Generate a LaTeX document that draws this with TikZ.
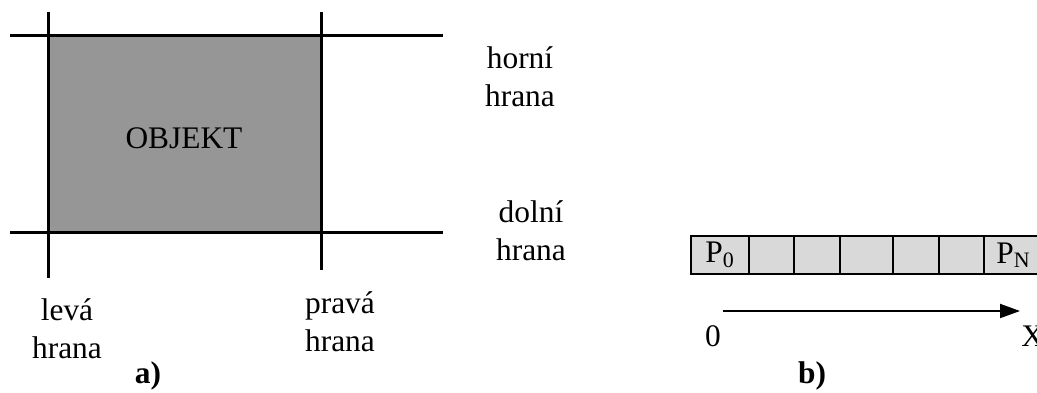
\documentclass[tikz,border=0pt]{standalone}
\usepackage{fontspec}
\setmainfont{Liberation Serif}
\usetikzlibrary{arrows.meta}
\begin{document}
\begin{tikzpicture}[x=0.5pt,y=-0.5pt,
  edge/.style={line width=1.5pt,black},
  lbl/.style={font=\fontsize{15.7}{19}\selectfont,align=center,inner sep=0pt},
  captionlbl/.style={font=\fontsize{15.7}{19}\selectfont\bfseries,inner sep=0pt},
  cell/.style={draw=black,line width=1.3pt,fill=black!15}]
\useasboundingbox (0,0) rectangle (1037,392);
\clip (0,0) rectangle (1037,392);
% part a
\fill[black!41] (48,35) rectangle (321,232);
\draw[edge] (10,35) -- (443,35);
\draw[edge] (10,232) -- (443,232);
\draw[edge] (48,12) -- (48,278);
\draw[edge] (321,12) -- (321,270);
\node[lbl] (obj) at (184,138) {OBJEKT};
\node[lbl] (leva) at (67,329) {levá\\hrana};
\node[lbl] (prava) at (340,322) {pravá\\hrana};
\node[lbl] (horni) at (520,77) {horní\\hrana};
\node[lbl] (dolni) at (531,231) {dolní\\hrana};
\node[captionlbl] (a) at (148,376) {a)};
% part b
\fill[black!15] (691,236) rectangle (1045,274);
\foreach \xa/\xb in {691/749,749/794,794/840,840/893,893/939,939/984,984/1045}
  \draw[line width=1.3pt] (\xa,236) rectangle (\xb,274);
\node[lbl] (p0) at (720,255) {P\textsubscript{0}};
\node[lbl,anchor=west] (pn) at (996,255) {P\textsubscript{N}};
\node[lbl] (zero) at (713,336) {0};
\node[lbl,anchor=west] (xax) at (1021,336) {X};
\coordinate (as) at (723,311);
\coordinate (ae) at (1020,311);
\draw[line width=1pt,-{Triangle[length=10pt,width=7pt]}] (as) -- (ae);
\node[captionlbl] (b) at (812,376) {b)};
\end{tikzpicture}
\end{document}
